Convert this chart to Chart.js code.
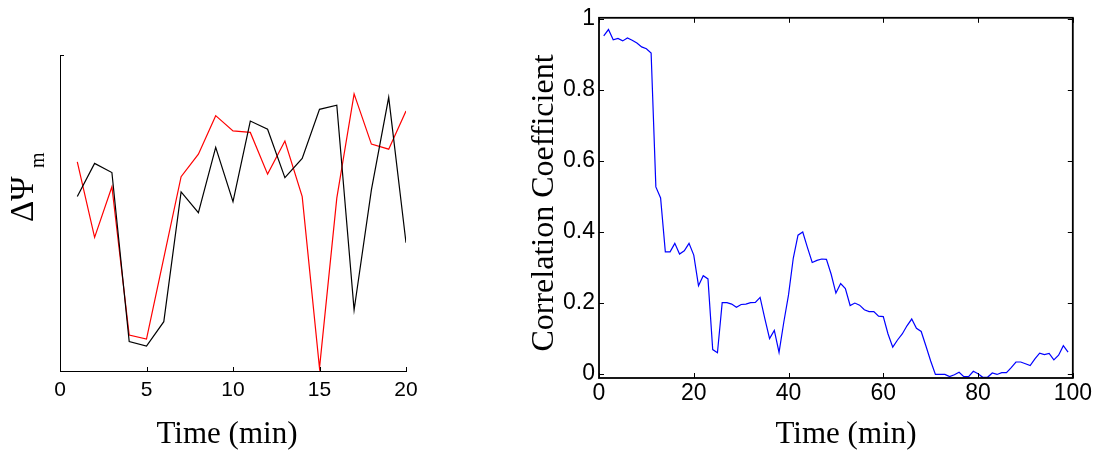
<!DOCTYPE html>
<html>
<head>
<meta charset="utf-8">
<script src="https://cdn.jsdelivr.net/npm/chart.js@4.4.1/dist/chart.umd.min.js"></script>
<style>
  html, body { margin: 0; padding: 0; background: #fff; }
  #wrap { position: relative; width: 1094px; height: 453px; overflow: hidden; }
  .panel { position: absolute; top: 0; height: 453px; }
</style>
</head>
<body>
<div id="wrap">
  <div class="panel" style="left:0;width:470px"><canvas id="psiChart"></canvas></div>
  <div class="panel" style="left:470px;width:624px"><canvas id="corrChart"></canvas></div>
</div>
<script>
// left panel: delta psi_m, arbitrary units (no y labels in the original)
const psiMinutes = [1, 2, 3, 4, 5, 6, 7, 8, 9, 10, 11, 12, 13, 14, 15, 16, 17, 18, 19, 20];
const psiBlack = [0.552, 0.657, 0.628, 0.093, 0.079, 0.156, 0.567, 0.501, 0.708, 0.536,
                  0.791, 0.765, 0.612, 0.673, 0.828, 0.841, 0.193, 0.573, 0.866, 0.406];
const psiRed = [0.662, 0.423, 0.583, 0.114, 0.101, 0.358, 0.615, 0.686, 0.808, 0.760,
                0.755, 0.623, 0.728, 0.552, 0.009, 0.547, 0.877, 0.718, 0.702, 0.823];
const psiXTicks = [0, 5, 10, 15, 20];
const psiYTicks = [0, 1];

// right panel: correlation coefficient per minute
const corrMinutes = [1, 2, 3, 4, 5, 6, 7, 8, 9, 10, 11, 12, 13, 14, 15, 16, 17, 18, 19, 20,
  21, 22, 23, 24, 25, 26, 27, 28, 29, 30, 31, 32, 33, 34, 35, 36, 37, 38, 39, 40,
  41, 42, 43, 44, 45, 46, 47, 48, 49, 50, 51, 52, 53, 54, 55, 56, 57, 58, 59, 60,
  61, 62, 63, 64, 65, 66, 67, 68, 69, 70, 71, 72, 73, 74, 75, 76, 77, 78, 79, 80,
  81, 82, 83, 84, 85, 86, 87, 88, 89, 90, 91, 92, 93, 94, 95, 96, 97, 98, 99];
const corrValues = [0.951, 0.969, 0.940, 0.944, 0.937, 0.945, 0.939, 0.931, 0.920, 0.915,
  0.903, 0.526, 0.495, 0.343, 0.343, 0.367, 0.337, 0.346, 0.367, 0.334,
  0.248, 0.276, 0.267, 0.068, 0.059, 0.200, 0.200, 0.196, 0.187, 0.195,
  0.196, 0.200, 0.201, 0.215, 0.155, 0.099, 0.122, 0.060, 0.145, 0.222,
  0.325, 0.390, 0.399, 0.355, 0.313, 0.319, 0.323, 0.322, 0.280, 0.227,
  0.254, 0.240, 0.192, 0.199, 0.193, 0.180, 0.175, 0.175, 0.162, 0.161,
  0.112, 0.075, 0.095, 0.112, 0.135, 0.154, 0.128, 0.119, 0.078, 0.036,
  -0.002, -0.002, -0.002, -0.008, -0.003, 0.004, -0.008, -0.008, 0.007, 0.000,
  -0.010, -0.010, 0.002, -0.002, 0.003, 0.003, 0.017, 0.033, 0.033, 0.028,
  0.023, 0.042, 0.058, 0.054, 0.057, 0.039, 0.052, 0.079, 0.061];
const corrXTicks = [0, 20, 40, 60, 80, 100];
const corrYTicks = [0, 0.2, 0.4, 0.6, 0.8, 1];

const sans = "'Liberation Sans', Arial, sans-serif";
const serif = "'Liberation Serif', 'Times New Roman', serif";

const points = (xs, ys) => ys.map((v, i) => ({ x: xs[i], y: v }));
const useTicks = list => scale => { scale.ticks = list.map(v => ({ value: v })); };

// matlab style ticks pointing into the plot, optional full box
const inwardTicks = {
  id: "inwardTicks",
  afterDraw(chart, args, opts) {
    const { ctx, chartArea: a } = chart;
    const { x, y } = chart.scales;
    const len = opts.length || 4;
    ctx.save();
    ctx.strokeStyle = "#000";
    ctx.lineWidth = 1;
    ctx.beginPath();
    x.ticks.forEach(t => {
      const px = Math.round(x.getPixelForValue(t.value)) + 0.5;
      ctx.moveTo(px, a.bottom);
      ctx.lineTo(px, a.bottom - len);
      if (opts.box) {
        ctx.moveTo(px, a.top);
        ctx.lineTo(px, a.top + len);
      }
    });
    y.ticks.forEach(t => {
      const py = Math.round(y.getPixelForValue(t.value)) + 0.5;
      ctx.moveTo(a.left, py);
      ctx.lineTo(a.left + len, py);
      if (opts.box) {
        ctx.moveTo(a.right, py);
        ctx.lineTo(a.right - len, py);
      }
    });
    ctx.stroke();
    if (opts.box) {
      ctx.lineWidth = opts.boxWidth || 1.5;
      ctx.strokeRect(a.left, a.top, a.right - a.left, a.bottom - a.top);
    }
    ctx.restore();
  }
};

// axis titles drawn as plain text at fixed spots
const axisText = {
  id: "axisText",
  afterDraw(chart, args, opts) {
    const ctx = chart.ctx;
    (opts.items || []).forEach(it => {
      ctx.save();
      ctx.fillStyle = "#000";
      ctx.translate(it.x, it.y);
      if (it.rotate) ctx.rotate(it.rotate);
      ctx.font = it.font;
      ctx.textAlign = it.align || "center";
      ctx.textBaseline = "alphabetic";
      ctx.fillText(it.text, it.dx || 0, it.dy || 0);
      ctx.restore();
    });
  }
};

new Chart(document.getElementById("psiChart"), {
  type: "line",
  data: {
    datasets: [
      { data: points(psiMinutes, psiBlack), borderColor: "#000000", borderWidth: 1.2, pointRadius: 0, tension: 0 },
      { data: points(psiMinutes, psiRed), borderColor: "#ff0000", borderWidth: 1.2, pointRadius: 0, tension: 0 }
    ]
  },
  options: {
    responsive: true,
    maintainAspectRatio: false,
    animation: false,
    layout: { padding: { left: 0, top: 55, right: 64, bottom: 0 } },
    scales: {
      x: {
        type: "linear",
        min: 0,
        max: 20,
        afterBuildTicks: useTicks(psiXTicks),
        afterFit: s => { s.height = 82; },
        grid: { display: false, drawTicks: false },
        border: { display: true, color: "#000", width: 1 },
        ticks: { color: "#000", font: { family: sans, size: 21 }, padding: 7, maxRotation: 0, callback: v => String(v) }
      },
      y: {
        min: 0,
        max: 1,
        afterBuildTicks: useTicks(psiYTicks),
        afterFit: s => { s.width = 60; },
        grid: { display: false, drawTicks: false },
        border: { display: true, color: "#000", width: 1 },
        ticks: { display: false }
      }
    },
    plugins: {
      legend: { display: false },
      tooltip: { enabled: false },
      inwardTicks: { length: 4 },
      axisText: {
        items: [
          { text: "Time (min)", x: 227, y: 443, font: "31px " + serif },
          { text: "\u0394\u03A8", x: 33, y: 197, rotate: -Math.PI / 2, align: "left", dx: -25, font: "33px " + serif },
          { text: "m", x: 33, y: 197, rotate: -Math.PI / 2, align: "left", dx: 29, dy: 11, font: "20px " + serif }
        ]
      }
    }
  },
  plugins: [inwardTicks, axisText]
});

new Chart(document.getElementById("corrChart"), {
  type: "line",
  data: {
    datasets: [
      { data: points(corrMinutes, corrValues), borderColor: "#0000ff", borderWidth: 1.2, pointRadius: 0, tension: 0 }
    ]
  },
  options: {
    responsive: true,
    maintainAspectRatio: false,
    animation: false,
    layout: { padding: { left: 0, top: 16, right: 21, bottom: 0 } },
    scales: {
      x: {
        type: "linear",
        min: 0,
        max: 100,
        afterBuildTicks: useTicks(corrXTicks),
        afterFit: s => { s.height = 75; },
        grid: { display: false, drawTicks: false },
        border: { display: false },
        ticks: { color: "#000", font: { family: sans, size: 23 }, padding: 2, maxRotation: 0, callback: v => String(v) }
      },
      y: {
        min: -0.012,
        max: 1.002,
        afterBuildTicks: useTicks(corrYTicks),
        afterFit: s => { s.width = 129; },
        grid: { display: false, drawTicks: false },
        border: { display: false },
        ticks: { color: "#000", font: { family: sans, size: 23 }, padding: 4, callback: v => String(v) }
      }
    },
    plugins: {
      legend: { display: false },
      tooltip: { enabled: false },
      inwardTicks: { length: 5, box: true, boxWidth: 1.8 },
      axisText: {
        items: [
          { text: "Time (min)", x: 376, y: 443, font: "31px " + serif },
          { text: "Correlation Coefficient", x: 83, y: 203, rotate: -Math.PI / 2, font: "32px " + serif }
        ]
      }
    }
  },
  plugins: [inwardTicks, axisText]
});
</script>
</body>
</html>
